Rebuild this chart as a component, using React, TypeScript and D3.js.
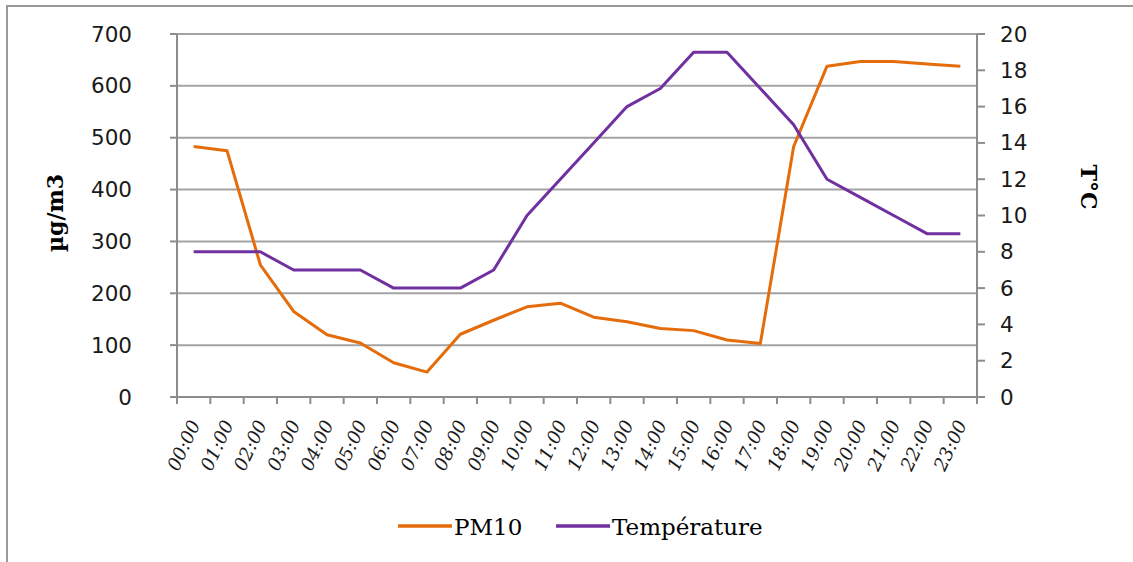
import React from "react";
import * as d3 from "d3";

const hours = ["00:00","01:00","02:00","03:00","04:00","05:00","06:00","07:00","08:00","09:00","10:00","11:00","12:00","13:00","14:00","15:00","16:00","17:00","18:00","19:00","20:00","21:00","22:00","23:00"];
const pm10 = [483, 475, 255, 165, 120, 104, 66, 48, 121, 148, 174, 181, 154, 145, 132, 128, 110, 103, 483, 638, 647, 647, 642, 638];
const temperature = [8, 8, 8, 7, 7, 7, 6, 6, 6, 7, 10, 12, 14, 16, 17, 19, 19, 17, 15, 12, 11, 10, 9, 9];
const leftTicks = [0, 100, 200, 300, 400, 500, 600, 700];
const rightTicks = [0, 2, 4, 6, 8, 10, 12, 14, 16, 18, 20];

const W = 1133, H = 562;
const L = 177, R = 977, T = 34, B = 397;
const ORANGE = "#E46C0A";
const PURPLE = "#7030A0";
const GRID = "#a3a3a3";
const AXIS = "#8c8c8c";

export default function App() {
  const x = d3.scaleBand<string>().domain(hours).range([L, R]).padding(0);
  const cx = (h: string) => (x(h) as number) + x.bandwidth() / 2;
  const yL = d3.scaleLinear().domain([0, 700]).range([B, T]);
  const yR = d3.scaleLinear().domain([0, 20]).range([B, T]);

  const linePM = d3.line<number>().x((_, i) => cx(hours[i])).y((d) => yL(d));
  const lineT = d3.line<number>().x((_, i) => cx(hours[i])).y((d) => yR(d));

  const tickFont = "'DejaVu Sans', Verdana, sans-serif";
  const serif = "'DejaVu Serif', Cambria, serif";

  return (
    <svg width={W} height={H} style={{ position: "absolute", left: 0, top: 0, background: "#fff" }}>
      <rect x={0} y={0} width={W} height={H} fill="#fff" />
      <rect x={7} y={6} width={W + 20} height={H + 20} fill="none" stroke="#9a9a9a" strokeWidth={2} />

      {/* gridlines */}
      {leftTicks.map((t) => (
        <line key={"g" + t} x1={L} x2={R} y1={yL(t)} y2={yL(t)} stroke={GRID} strokeWidth={2} />
      ))}

      {/* left axis */}
      <line x1={L} x2={L} y1={T} y2={B} stroke={AXIS} strokeWidth={2} />
      {leftTicks.map((t) => (
        <g key={"l" + t}>
          <line x1={L - 7} x2={L} y1={yL(t)} y2={yL(t)} stroke={AXIS} strokeWidth={2} />
          <text x={132} y={yL(t) + 7.5} textAnchor="end" fontFamily={tickFont} fontSize={21.5} fill="#1a1a1a">{t}</text>
        </g>
      ))}

      {/* right axis */}
      <line x1={R} x2={R} y1={T} y2={B} stroke={AXIS} strokeWidth={2} />
      {rightTicks.map((t) => (
        <g key={"r" + t}>
          <line x1={R} x2={R + 8} y1={yR(t)} y2={yR(t)} stroke={AXIS} strokeWidth={2} />
          <text x={1000} y={yR(t) + 7.5} textAnchor="start" fontFamily={tickFont} fontSize={21.5} fill="#1a1a1a">{t}</text>
        </g>
      ))}

      {/* bottom axis */}
      <line x1={L - 7} x2={R} y1={B} y2={B} stroke={AXIS} strokeWidth={2} />
      {d3.range(hours.length + 1).map((i) => {
        const xx = i < hours.length ? (x(hours[i]) as number) : R;
        return <line key={"bt" + i} x1={xx} x2={xx} y1={B} y2={B + 7} stroke={AXIS} strokeWidth={2} />;
      })}
      {hours.map((h) => (
        <text
          key={"xl" + h}
          transform={`translate(${cx(h) + 7},${424}) rotate(-65)`}
          textAnchor="end"
          fontFamily={serif}
          fontStyle="italic"
          fontSize={18.5}
          fill="#1a1a1a"
        >
          {h}
        </text>
      ))}

      {/* axis titles */}
      <text transform={`translate(63,213) rotate(-90)`} textAnchor="middle" fontFamily={serif} fontWeight="bold" fontSize={22} fill="#000">µg/m3</text>
      <text transform={`translate(1081,187) rotate(90)`} textAnchor="middle" fontFamily={serif} fontWeight="bold" fontSize={22} fill="#000">T°C</text>

      {/* series */}
      <path d={linePM(pm10) || ""} fill="none" stroke={ORANGE} strokeWidth={3} strokeLinejoin="round" />
      <path d={lineT(temperature) || ""} fill="none" stroke={PURPLE} strokeWidth={3} strokeLinejoin="round" />

      {/* legend */}
      <line x1={398} x2={452} y1={526} y2={526} stroke={ORANGE} strokeWidth={3.5} />
      <text x={454} y={535} fontFamily={serif} fontSize={23} fill="#000">PM10</text>
      <line x1={556} x2={610} y1={526} y2={526} stroke={PURPLE} strokeWidth={3.5} />
      <text x={612} y={535} fontFamily={serif} fontSize={23} fill="#000">Température</text>
    </svg>
  );
}
